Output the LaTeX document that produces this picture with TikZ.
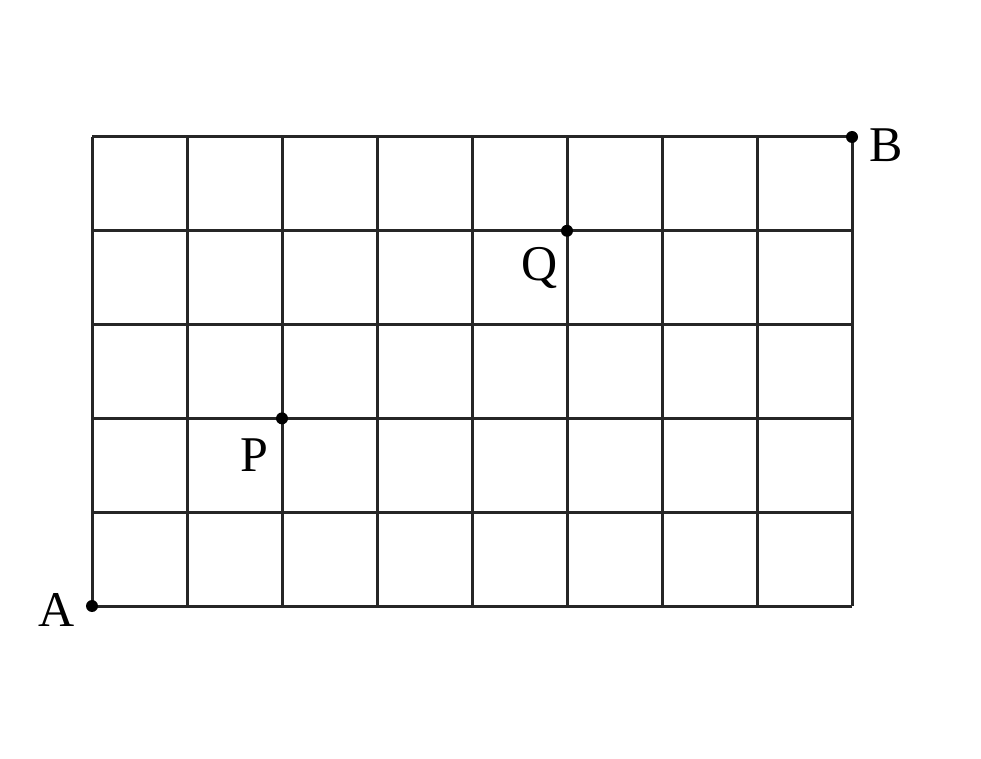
\documentclass[tikz,border=0pt]{standalone}
\usepackage{fontspec}
\setmainfont{Liberation Serif}
\tikzset{
  gridline/.style={line width=1.5pt, black!85},
  pt/.style={circle, fill=black, inner sep=0pt, minimum size=6pt},
  lbl/.style={font=\fontsize{25}{25}\selectfont, inner sep=0pt}
}
\begin{document}
\begin{tikzpicture}[x=0.5pt,y=-0.5pt]
\useasboundingbox (0,0) rectangle (981,759);
\foreach \i in {0,...,8} {
  \draw[gridline] ({92+95*\i},137) -- ({92+95*\i},606);
}
\foreach \j in {0,...,5} {
  \draw[gridline] (92,{137+93.8*\j}) -- (852,{137+93.8*\j});
}
\node[pt] (A) at (92,606) {};
\node[pt] (B) at (852,137) {};
\node[pt] (P) at (282,418.4) {};
\node[pt] (Q) at (567,230.8) {};
\node[lbl] (lA) at (57,610) {A};
\node[lbl] (lB) at (886,145) {B};
\node[lbl] (lP) at (254,455) {P};
\node[lbl] (lQ) at (540,268) {Q};
\end{tikzpicture}
\end{document}
